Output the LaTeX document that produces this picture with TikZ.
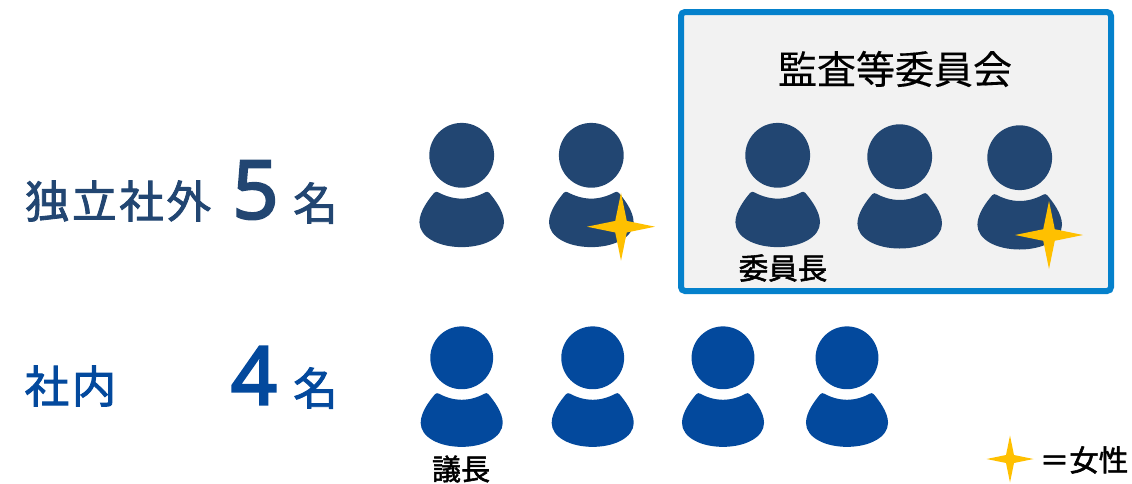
\documentclass[tikz,border=0pt]{standalone}
\usepackage{fontspec}
\setmainfont{Noto Sans CJK JP}
\newfontfamily\jpfont[FakeBold=0.3]{Noto Sans CJK JP}
\newfontfamily\jpsp[LetterSpace=6,FakeBold=2]{Noto Sans CJK JP}
\newfontfamily\jpbold[FakeBold=1.8]{Noto Sans CJK JP}
\newfontfamily\numfont[FakeBold=2.8]{Noto Sans}
\definecolor{navy}{HTML}{224672}
\definecolor{royal}{HTML}{03499D}
\definecolor{boxblue}{HTML}{0581CC}
\definecolor{boxfill}{HTML}{F2F2F2}
\definecolor{stargold}{HTML}{FFC000}
\tikzset{
  x=1pt,y=-1pt,
  txt/.style={inner sep=0pt,outer sep=0pt,anchor=center},
  personicon/.pic={
    \fill (0,0) circle (32.4);
    \fill (-27.5,37.5) .. controls (-26,36.2) and (-25,36.2) .. (-23.5,37)
      .. controls (-16,41) and (-8,43.3) .. (0,43.3)
      .. controls (8,43.3) and (16,41) .. (23.5,37)
      .. controls (25,36.2) and (26,36.2) .. (27.5,37.5)
      .. controls (33,44) and (42.3,56) .. (42.3,67)
      .. controls (42.3,82) and (23,91.8) .. (0,91.8)
      .. controls (-23,91.8) and (-42.3,82) .. (-42.3,67)
      .. controls (-42.3,56) and (-33,44) .. (-27.5,37.5) -- cycle;
  },
}
\newcommand{\sparkle}[3]{% centre x, y, radius
  \fill[stargold] (#1,#2-#3) -- (#1+0.17*#3,#2-0.17*#3) -- (#1+#3,#2)
    -- (#1+0.17*#3,#2+0.17*#3) -- (#1,#2+#3) -- (#1-0.17*#3,#2+0.17*#3)
    -- (#1-#3,#2) -- (#1-0.17*#3,#2-0.17*#3) -- cycle;
}
\begin{document}
\begin{tikzpicture}
\useasboundingbox (0,0) rectangle (1132,483);
% committee frame
\node[draw=boxblue,fill=boxfill,line width=6pt,rounded corners=4pt,minimum width=430pt,minimum height=279pt,inner sep=0pt,anchor=center] (board) at (896,151.5) {};
\node[txt,text=black,font=\jpfont\fontsize{39}{39}\selectfont] (boardtitle) at (895,69) {監査等委員会};
% row 1 people
\pic[navy] at (461.7,155.3) {personicon};
\pic[navy] at (591.3,155.3) {personicon};
\pic[navy] at (777.7,155.3) {personicon};
\pic[navy] at (899.7,156.7) {personicon};
\pic[navy] at (1019.7,157.7) {personicon};
% row 2 people
\pic[royal,scale=0.97] at (461.7,357.8) {personicon};
\pic[royal,scale=0.97] at (592.7,357.8) {personicon};
\pic[royal,scale=0.97] at (723,357.8) {personicon};
\pic[royal,scale=0.97] at (847,357.8) {personicon};
% stars
\sparkle{621}{226.7}{34}
\sparkle{1049}{235}{34}
\sparkle{1010}{459}{23.5}
% left labels
\node[txt,text=navy,font=\jpsp\fontsize{44.5}{44}\selectfont] (outsideLabel) at (118,201) {独立社外};
\node[txt,text=navy,font=\numfont\fontsize{81}{81}\selectfont] (outsideNum) at (255.5,190) {5};
\node[txt,text=navy,font=\jpsp\fontsize{44.5}{44}\selectfont] (outsideUnit) at (315.5,203) {名};
\node[txt,text=royal,font=\jpsp\fontsize{44.5}{44}\selectfont] (insideLabel) at (70.5,386) {社内};
\node[txt,text=royal,font=\numfont\fontsize{81}{81}\selectfont] (insideNum) at (254,375.5) {4};
\node[txt,text=royal,font=\jpsp\fontsize{44.5}{44}\selectfont] (insideUnit) at (315.5,388) {名};
% small labels
\node[txt,text=black,font=\jpbold\fontsize{29.5}{30}\selectfont] (chairA) at (783,268) {委員長};
\node[txt,text=black,font=\jpbold\fontsize{29}{30}\selectfont] (chairB) at (461,469) {議長};
\node[txt,text=black,font=\jpbold\fontsize{29.5}{30}\selectfont] (legend) at (1084,460) {＝女性};
\end{tikzpicture}
\end{document}
